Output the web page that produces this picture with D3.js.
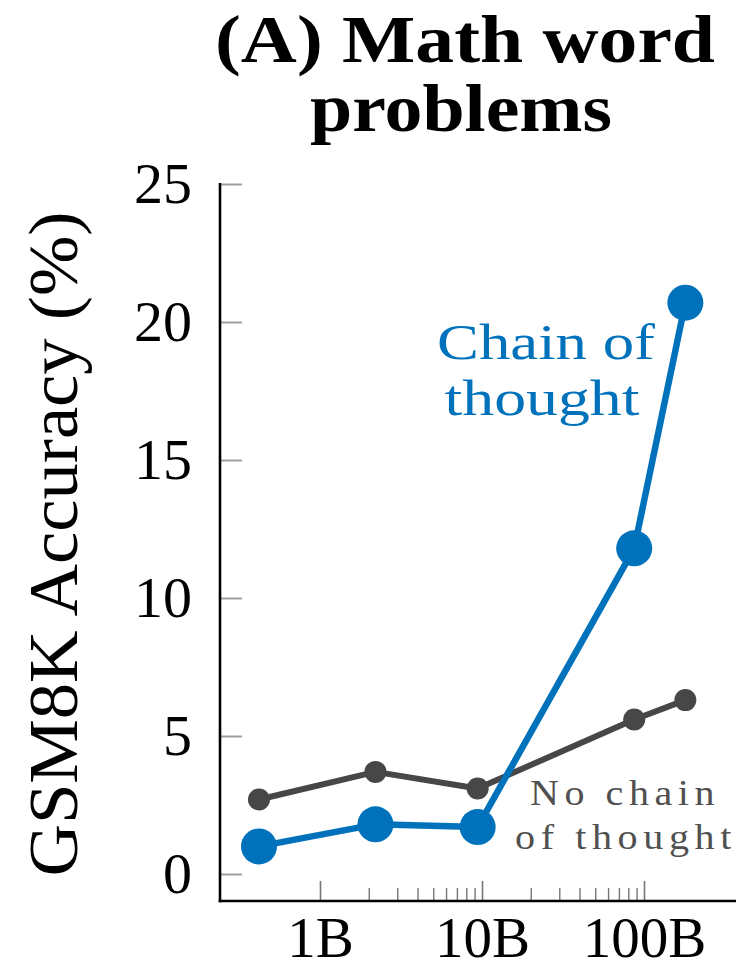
<!DOCTYPE html>
<html>
<head>
<meta charset="utf-8">
<script src="https://cdn.jsdelivr.net/npm/d3@7"></script>
<style>
  html, body { margin: 0; padding: 0; background: #fff; }
  svg { display: block; }
  text { font-family: "Liberation Serif", "DejaVu Serif", serif; }
</style>
</head>
<body>
<script>
// Model size in billions of parameters
const modelSizes = [0.42, 2.2, 9.4, 87, 180];
// GSM8K solve rate (%)
const chainOfThought = [1.0, 1.8, 1.7, 11.8, 20.7];
const noChainOfThought = [2.7, 3.7, 3.1, 5.6, 6.3];
const yTickValues = [0, 5, 10, 15, 20, 25];
const xTickValues = [1, 10, 100];
const xTickLabels = ["1B", "10B", "100B"];
const xMinorTicks = [2, 3, 4, 5, 6, 7, 8, 9, 20, 30, 40, 50, 60, 70, 80, 90];

const W = 744, H = 971;
const BLUE = "#0072bc", GRAY = "#474747";
const plotLeft = 220, plotRight = 736, axisY = 901, axisTop = 183;

const svg = d3.select("body").append("svg").attr("width", W).attr("height", H);

const x = d3.scaleLog().domain([1, 100]).range([320, 644]);
const y = d3.scaleLinear().domain([0, 25]).range([874, 184]);

// Title (two lines in one text element)
const title = svg.append("text").attr("text-anchor", "middle")
  .style("font-weight", "bold").style("font-size", "67px").attr("fill", "#000");
title.append("tspan").attr("x", 465).attr("y", 62)
  .attr("textLength", 500).attr("lengthAdjust", "spacingAndGlyphs")
  .text("(A) Math word");
title.append("tspan").attr("x", 461).attr("y", 131)
  .attr("textLength", 302).attr("lengthAdjust", "spacingAndGlyphs")
  .text("problems");

// Y axis
const yAxis = d3.axisLeft(y).tickValues(yTickValues).tickFormat(d3.format("d"))
  .tickSizeInner(-22).tickSizeOuter(0).tickPadding(28);
const gy = svg.append("g").attr("transform", `translate(${plotLeft},0)`).call(yAxis);
gy.select(".domain").remove();
gy.selectAll(".tick line").attr("stroke", "#a0a0a0").attr("stroke-width", 2);
gy.selectAll(".tick text").attr("fill", "#000").style("font-size", "58px")
  .style("font-family", "'Liberation Serif', serif");

// X axis: major ticks with labels
const xAxis = d3.axisBottom(x).tickValues(xTickValues)
  .tickFormat((d, i) => xTickLabels[i])
  .tickSizeInner(-20).tickSizeOuter(0).tickPadding(16);
const gx = svg.append("g").attr("transform", `translate(0,${axisY})`).call(xAxis);
gx.select(".domain").remove();
gx.selectAll(".tick line").attr("stroke", "#777").attr("stroke-width", 1.6);
gx.selectAll(".tick text").attr("fill", "#000").style("font-size", "57px")
  .style("font-family", "'Liberation Serif', serif");

// X axis: minor ticks
const xMinor = d3.axisBottom(x).tickValues(xMinorTicks).tickFormat("")
  .tickSizeInner(-13).tickSizeOuter(0);
const gxm = svg.append("g").attr("transform", `translate(0,${axisY})`).call(xMinor);
gxm.select(".domain").remove();
gxm.selectAll(".tick line").attr("stroke", "#777").attr("stroke-width", 1.4);

// Axis lines
svg.append("line").attr("x1", plotLeft).attr("x2", plotLeft)
  .attr("y1", axisTop).attr("y2", axisY + 1.3)
  .attr("stroke", "#000").attr("stroke-width", 2.6);
svg.append("line").attr("x1", plotLeft - 1.3).attr("x2", plotRight)
  .attr("y1", axisY).attr("y2", axisY)
  .attr("stroke", "#000").attr("stroke-width", 2.6);

// Y axis title
svg.append("text").attr("text-anchor", "middle")
  .attr("transform", "translate(77,544) rotate(-90)")
  .style("font-size", "70px").attr("fill", "#000")
  .attr("textLength", 665).attr("lengthAdjust", "spacingAndGlyphs")
  .text("GSM8K Accuracy (%)");

// Series
const line = d3.line().x(d => x(d[0])).y(d => y(d[1]));
const noCot = modelSizes.map((s, i) => [s, noChainOfThought[i]]);
const cot = modelSizes.map((s, i) => [s, chainOfThought[i]]);

svg.append("path").datum(noCot).attr("d", line)
  .attr("fill", "none").attr("stroke", GRAY).attr("stroke-width", 6)
  .attr("stroke-linejoin", "round");
svg.append("g").selectAll("circle").data(noCot).join("circle")
  .attr("cx", d => x(d[0])).attr("cy", d => y(d[1])).attr("r", 11).attr("fill", GRAY);

svg.append("path").datum(cot).attr("d", line)
  .attr("fill", "none").attr("stroke", BLUE).attr("stroke-width", 6.5)
  .attr("stroke-linejoin", "round");
svg.append("g").selectAll("circle").data(cot).join("circle")
  .attr("cx", d => x(d[0])).attr("cy", d => y(d[1])).attr("r", 18).attr("fill", BLUE);

// Series labels
const cotLabel = svg.append("text").attr("text-anchor", "middle")
  .attr("fill", BLUE).style("font-size", "50px");
cotLabel.append("tspan").attr("x", 546).attr("y", 359)
  .attr("textLength", 218).attr("lengthAdjust", "spacingAndGlyphs").text("Chain of");
cotLabel.append("tspan").attr("x", 542).attr("y", 415)
  .attr("textLength", 195).attr("lengthAdjust", "spacingAndGlyphs").text("thought");

svg.append("clipPath").attr("id", "edge-clip")
  .append("rect").attr("x", 0).attr("y", 0).attr("width", 731).attr("height", H);
const noCotLabel = svg.append("text").attr("clip-path", "url(#edge-clip)")
  .attr("text-anchor", "middle")
  .attr("fill", "#505050").style("font-size", "36px").style("letter-spacing", "5px");
noCotLabel.append("tspan").attr("x", 625).attr("y", 805)
  .attr("textLength", 190).attr("lengthAdjust", "spacingAndGlyphs").text("No chain");
noCotLabel.append("tspan").attr("x", 626).attr("y", 849)
  .attr("textLength", 222).attr("lengthAdjust", "spacingAndGlyphs").text("of thought");
</script>
</body>
</html>
